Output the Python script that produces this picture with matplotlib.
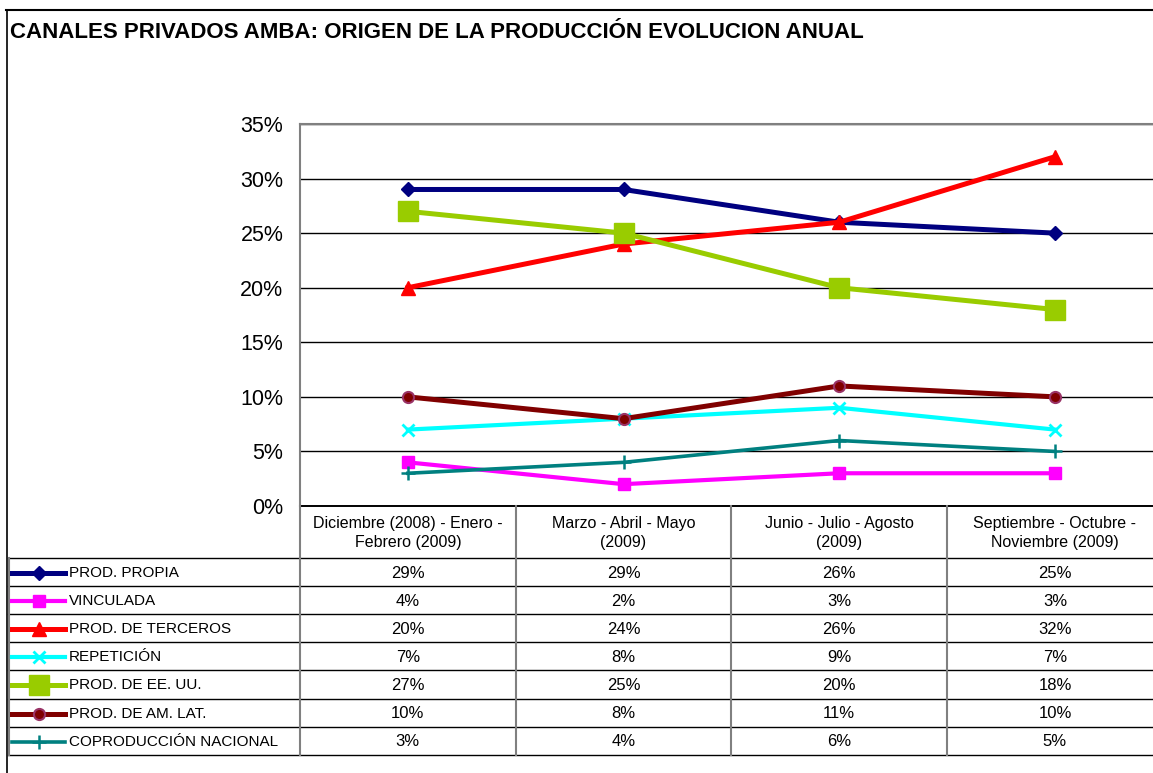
import matplotlib
matplotlib.use("Agg")
import matplotlib.pyplot as plt
from matplotlib.lines import Line2D
from matplotlib.ticker import FuncFormatter

plt.rcParams['font.family'] = ['Liberation Sans', 'DejaVu Sans']

title = "CANALES PRIVADOS AMBA: ORIGEN DE LA PRODUCCIÓN EVOLUCION ANUAL"
categories = ["Diciembre (2008) - Enero -\nFebrero (2009)",
              "Marzo - Abril - Mayo\n(2009)",
              "Junio - Julio - Agosto\n(2009)",
              "Septiembre - Octubre -\nNoviembre (2009)"]
series_names = ["PROD. PROPIA", "VINCULADA", "PROD. DE TERCEROS", "REPETICIÓN",
                "PROD. DE EE. UU.", "PROD. DE AM. LAT.", "COPRODUCCIÓN NACIONAL"]
prod_propia = [29, 29, 26, 25]
vinculada = [4, 2, 3, 3]
terceros = [20, 24, 26, 32]
repeticion = [7, 8, 9, 7]
ee_uu = [27, 25, 20, 18]
am_lat = [10, 8, 11, 10]
coproduccion = [3, 4, 6, 5]
series_values = [prod_propia, vinculada, terceros, repeticion, ee_uu, am_lat, coproduccion]
y_ticks = [0, 5, 10, 15, 20, 25, 30, 35]

styles = [
    dict(color="#000080", marker="D", ms=7, mfc="#000080", mec="#000080", mew=1),
    dict(color="#FF00FF", marker="s", ms=9, mfc="#FF00FF", mec="#FF00FF", mew=1),
    dict(color="#FF0000", marker="^", ms=10, mfc="#FF0000", mec="#FF0000", mew=1),
    dict(color="#00FFFF", marker="x", ms=9, mfc="#00FFFF", mec="#00FFFF", mew=2),
    dict(color="#99CC00", marker="s", ms=14, mfc="#99CC00", mec="#99CC00", mew=1),
    dict(color="#800000", marker="o", ms=8, mfc="#800000", mec="#993366", mew=1.5),
    dict(color="#008080", marker="+", ms=10, mfc="#008080", mec="#008080", mew=1.8),
]
lws = [3.6, 3.0, 3.6, 3.0, 3.6, 3.6, 2.6]

W, H = 1153, 773
fig = plt.figure(figsize=(W / 100, H / 100), dpi=100)

# plot area in pixel coords
px_left, px_top, px_bottom = 300, 124, 506
cat_w = 215.7
px_right = px_left + cat_w * len(categories)
ax = fig.add_axes([px_left / W, (H - px_bottom) / H, (px_right - px_left) / W, (px_bottom - px_top) / H])
x = list(range(len(categories)))
for vals, st, lw in zip(series_values, styles, lws):
    ax.plot(x, vals, lw=lw, zorder=3, clip_on=False, **st)
ax.set_xlim(-0.5, len(categories) - 0.5)
ax.set_ylim(0, 35)
ax.set_yticks(y_ticks)
ax.yaxis.set_major_formatter(FuncFormatter(lambda v, p: f"{int(v)}%"))
ax.tick_params(axis='y', length=0, pad=12, labelsize=15.5)
ax.set_xticks([])
ax.grid(axis='y', color='black', lw=1)
ax.set_axisbelow(True)
for s in ['left', 'top']:
    ax.spines[s].set_color('#808080')
    ax.spines[s].set_linewidth(1.5)
ax.spines['right'].set_visible(False)
ax.spines['bottom'].set_color('black')
ax.spines['bottom'].set_linewidth(1.2)

# overlay for table and frame
ov = fig.add_axes([0, 0, 1, 1], zorder=5)
ov.set_xlim(0, W)
ov.set_ylim(H, 0)
ov.axis('off')
ov.patch.set_alpha(0)

# outer frame
ov.plot([6.5, 6.5], [10, H], color='black', lw=1.2)
ov.plot([6, W], [10, 10], color='black', lw=1.5)
ov.text(10, 32, title, fontsize=16, fontweight='bold', va='center', ha='left')

# table
header_top, header_bot = 506, 558
row_h = 28.1
n = len(series_names)
row_edges = [header_bot + i * row_h for i in range(n + 1)]
col_edges = [px_left + i * cat_w for i in range(len(categories) + 1)]
tfs = 11
vfs = 12
hfs = 11.5
# horizontal lines
ov.plot([px_left, W], [header_top, header_top], color='black', lw=1.2)
for y in row_edges:
    ov.plot([8, W], [y, y], color='black', lw=1)
# vertical lines
ov.plot([9, 9], [header_bot, row_edges[-1]], color='#808080', lw=1.5)
for xc in col_edges:
    ov.plot([xc, xc], [header_top, row_edges[-1]], color='#808080', lw=1.5)
# header text
for i, c in enumerate(categories):
    ov.text(px_left + (i + 0.5) * cat_w, (header_top + header_bot) / 2 + 1, c,
            ha='center', va='center', fontsize=hfs, linespacing=1.4)
# rows
for r, (name, vals, st, lw) in enumerate(zip(series_names, series_values, styles, lws)):
    yc = (row_edges[r] + row_edges[r + 1]) / 2 + 1
    ov.add_line(Line2D([12, 38.5, 65], [yc, yc, yc], lw=lw, markevery=[1], **st))
    ov.text(69, yc, name, ha='left', va='center', fontsize=tfs)
    for i, v in enumerate(vals):
        ov.text(px_left + (i + 0.5) * cat_w, yc, f"{v}%", ha='center', va='center', fontsize=vfs)

fig.savefig("out.png", dpi=100)
